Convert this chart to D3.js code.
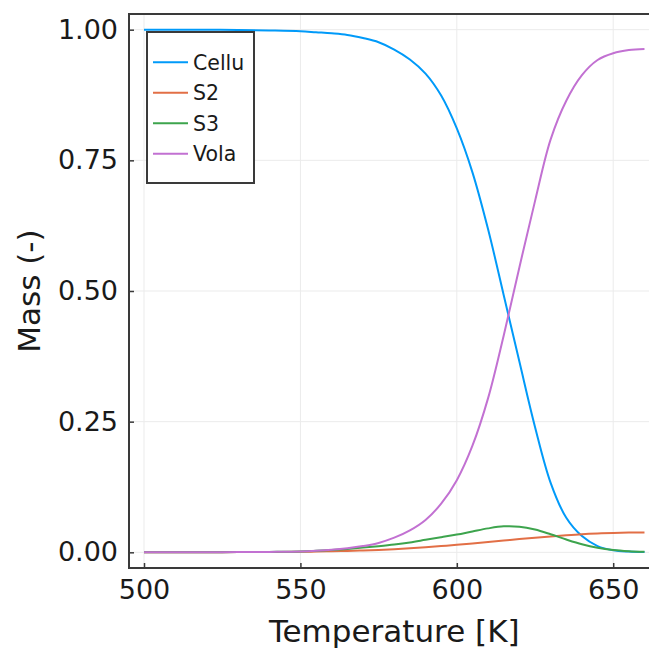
<!DOCTYPE html>
<html>
<head>
<meta charset="utf-8">
<script src="https://cdn.jsdelivr.net/npm/d3@7"></script>
<style>
  html, body { margin: 0; padding: 0; background: #fff; overflow: hidden; }
  svg { display: block; font-family: "DejaVu Sans", sans-serif; }
</style>
</head>
<body>
<svg id="chart" width="649" height="651"></svg>
<script>
// ---- data ----
const temperature = [500, 510, 520, 530, 540, 550, 555, 560, 565, 570, 575, 580, 585, 590, 595, 600, 605, 610, 615, 620, 625, 630, 635, 640, 645, 650, 655, 660];
const cellu = [1.000, 1.000, 0.9998, 0.9994, 0.9985, 0.997, 0.995, 0.993, 0.990, 0.984, 0.976, 0.962, 0.943, 0.916, 0.874, 0.811, 0.727, 0.618, 0.492, 0.365, 0.240, 0.133, 0.066, 0.031, 0.012, 0.004, 0.0015, 0.0006];
const s2 = [0, 0.0001, 0.0002, 0.0004, 0.0007, 0.001, 0.0015, 0.002, 0.0027, 0.0035, 0.0045, 0.006, 0.0078, 0.0098, 0.012, 0.0143, 0.017, 0.0198, 0.0226, 0.0254, 0.028, 0.0305, 0.0328, 0.0348, 0.0362, 0.0372, 0.0378, 0.0381];
const s3 = [0, 0.0001, 0.0002, 0.0004, 0.0008, 0.0015, 0.0028, 0.0045, 0.0065, 0.009, 0.0118, 0.015, 0.019, 0.024, 0.029, 0.034, 0.040, 0.0458, 0.0497, 0.049, 0.0435, 0.0345, 0.0245, 0.0155, 0.0088, 0.0045, 0.0022, 0.001];
const vola = [0, 0.0001, 0.0002, 0.0004, 0.0008, 0.0015, 0.0028, 0.0048, 0.0078, 0.012, 0.018, 0.028, 0.042, 0.062, 0.093, 0.138, 0.204, 0.295, 0.415, 0.545, 0.672, 0.790, 0.864, 0.913, 0.942, 0.955, 0.961, 0.963];
const seriesNames = ["Cellu", "S2", "S3", "Vola"];
const seriesColors = ["#009AF9", "#E26F46", "#3DA44D", "#C271D2"];
const xTicks = [500, 550, 600, 650];
const yTicks = [0, 0.25, 0.5, 0.75, 1.0];
const xLabel = "Temperature [K]";
const yLabel = "Mass (-)";

const seriesValues = [cellu, s2, s3, vola];

// ---- layout ----
const svg = d3.select("#chart");
const plot = { left: 129, top: 14, right: 659.5, bottom: 568 };

const x = d3.scaleLinear().domain([495.2, 664.8]).range([plot.left, plot.right]);
const y = d3.scaleLinear().domain([-0.03, 1.03]).range([plot.bottom, plot.top]);

const frameColor = "#3a3a3a";
const gridColor = "#ebebeb";

// grid
const grid = svg.append("g");
grid.selectAll("line.gx").data(xTicks).join("line")
  .attr("x1", d => x(d)).attr("x2", d => x(d))
  .attr("y1", plot.top).attr("y2", plot.bottom)
  .attr("stroke", gridColor).attr("stroke-width", 1);
grid.selectAll("line.gy").data(yTicks).join("line")
  .attr("x1", plot.left).attr("x2", plot.right)
  .attr("y1", d => y(d)).attr("y2", d => y(d))
  .attr("stroke", gridColor).attr("stroke-width", 1);

// clip
svg.append("clipPath").attr("id", "clip").append("rect")
  .attr("x", plot.left).attr("y", plot.top)
  .attr("width", plot.right - plot.left).attr("height", plot.bottom - plot.top);

// lines
const line = d3.line().curve(d3.curveCatmullRom.alpha(0.5));
const lines = svg.append("g").attr("clip-path", "url(#clip)");
seriesValues.forEach((vals, i) => {
  lines.append("path")
    .datum(temperature.map((t, j) => [x(t), y(vals[j])]))
    .attr("d", line)
    .attr("fill", "none")
    .attr("stroke", seriesColors[i])
    .attr("stroke-width", 2)
    .attr("stroke-linejoin", "round");
});

// axes (inward ticks)
const xAxis = d3.axisBottom(x).tickValues(xTicks).tickFormat(d3.format("d")).tickSizeInner(-5).tickSizeOuter(0).tickPadding(12);
const yAxis = d3.axisLeft(y).tickValues(yTicks).tickFormat(d3.format(".2f")).tickSizeInner(-5).tickSizeOuter(0).tickPadding(11);

const gx = svg.append("g").attr("transform", `translate(0,${plot.bottom})`).call(xAxis);
const gy = svg.append("g").attr("transform", `translate(${plot.left},0)`).call(yAxis);
[gx, gy].forEach(g => {
  g.select(".domain").remove();
  g.selectAll(".tick line").attr("stroke", frameColor).attr("stroke-width", 1.5);
  g.selectAll(".tick text").attr("fill", "#1a1a1a").style("font-family", "DejaVu Sans, sans-serif").style("font-size", "27px");
});
gx.selectAll(".tick text").attr("dy", "0.71em");

// frame
svg.append("rect")
  .attr("x", plot.left).attr("y", plot.top)
  .attr("width", plot.right - plot.left).attr("height", plot.bottom - plot.top)
  .attr("fill", "none").attr("stroke", frameColor).attr("stroke-width", 2);

// axis labels
svg.append("text")
  .attr("x", (plot.left + plot.right) / 2).attr("y", 642)
  .attr("text-anchor", "middle").attr("fill", "#1a1a1a")
  .style("font-size", "31px").text(xLabel);
svg.append("text")
  .attr("transform", `translate(40,${(plot.top + plot.bottom) / 2}) rotate(-90)`)
  .attr("text-anchor", "middle").attr("fill", "#1a1a1a")
  .style("font-size", "31px").text(yLabel);

// legend
const lg = svg.append("g");
lg.append("rect").attr("x", 147).attr("y", 32).attr("width", 107).attr("height", 151)
  .attr("fill", "#fff").attr("stroke", frameColor).attr("stroke-width", 2);
const rowY = d3.scaleLinear().domain([0, 3]).range([62.3, 153.8]);
seriesNames.forEach((name, i) => {
  lg.append("line").attr("x1", 153).attr("x2", 188)
    .attr("y1", rowY(i)).attr("y2", rowY(i))
    .attr("stroke", seriesColors[i]).attr("stroke-width", 2);
  lg.append("text").attr("x", 193).attr("y", rowY(i)).attr("dy", "0.36em")
    .attr("fill", "#1a1a1a").style("font-size", "20.5px").text(name);
});
</script>
</body>
</html>
